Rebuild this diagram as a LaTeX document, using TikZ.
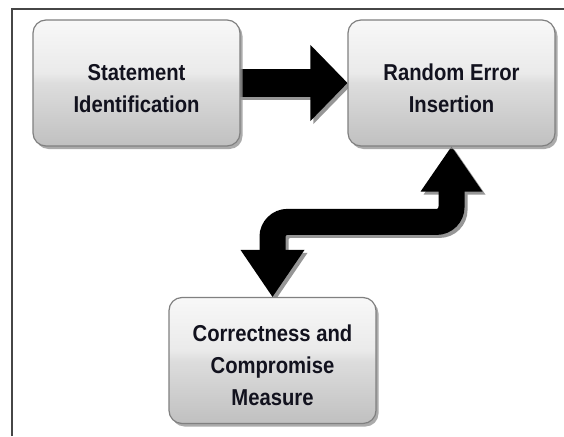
\documentclass[tikz,border=0pt]{standalone}
\usepackage{fontspec}
\setmainfont{Liberation Sans}[FakeStretch=0.88]
\usetikzlibrary{calc,shadows}
\pgfdeclarelayer{background}
\pgfsetlayers{background,main}

\definecolor{boxbot}{RGB}{192,192,192}
\definecolor{boxmid}{RGB}{221,221,221}
\definecolor{boxhi}{RGB}{234,234,234}
\definecolor{boxtop}{RGB}{248,248,248}
\definecolor{boxedge}{RGB}{128,128,128}
\definecolor{shadowgrey}{RGB}{150,150,150}
\definecolor{textdark}{RGB}{18,18,30}
\definecolor{framegrey}{RGB}{70,70,70}

% glossy vertical fill of the process boxes (25bp = bottom, 75bp = top)
\pgfdeclareverticalshading{boxgloss}{100bp}{%
  color(0bp)=(boxbot); color(25bp)=(boxbot); color(50bp)=(boxmid);
  color(54bp)=(boxhi); color(75bp)=(boxtop); color(100bp)=(boxtop)}

% pushes the text block a little below the box centre
\newcommand\topgap{\rule{0pt}{27pt}}

\begin{document}
\begin{tikzpicture}[x=1pt,y=-1pt,
  stepbox/.style={rectangle, rounded corners=13pt,
    minimum width=207pt, minimum height=126pt, inner sep=0pt,
    draw=boxedge, line width=1.2pt, shade, shading=boxgloss,
    drop shadow={shadow xshift=2.5pt, shadow yshift=-3pt,
      fill=shadowgrey, opacity=0.8},
    font=\bfseries\fontsize{23}{32}\selectfont, text=textdark, align=center},
  framerule/.style={draw=framegrey, line width=1.2pt}]
\useasboundingbox (0,0) rectangle (564,436);

% partial frame along the top and left edges
\draw[framerule] (12,436) -- (12,9) -- (564,9);

% process boxes
\node[stepbox] (s) at (136.5,83) {\topgap Statement\\Identification};
\node[stepbox] (r) at (451.5,83) {\topgap Random Error\\Insertion};
\node[stepbox] (c) at (272.5,360.5) {\topgap Correctness and\\Compromise\\Measure};

% block arrows, each drawn once as a grey shadow and once in black
\begin{pgfonlayer}{background}
\foreach \o/\col in {3/shadowgrey,0/black} {
  % straight arrow: Statement Identification -> Random Error Insertion
  \fill[\col] ($(s.east)+(-3,-14)+(\o,\o)$) rectangle ($(r.west)+(-36,14)+(\o,\o)$);
  \fill[\col] ($(r.west)+(-37,-38)+(\o,\o)$) -- ($(r.west)+(\o,\o)$)
     -- ($(r.west)+(-37,38)+(\o,\o)$) -- cycle;
  % bent two-way arrow: Random Error Insertion <-> Correctness and Compromise Measure
  \draw[\col, line width=26pt, rounded corners=15pt]
     ($(r.south)+(0,44)+(\o,\o)$) |- ($(c.north)+(0,-75)+(\o,\o)$)
     -- ($(c.north)+(0,-46)+(\o,\o)$);
  \fill[\col] ($(r.south)+(-31,45)+(\o,\o)$) -- ($(r.south)+(\o,\o)$)
     -- ($(r.south)+(31,45)+(\o,\o)$) -- cycle;
  \fill[\col] ($(c.north)+(-32,-47)+(\o,\o)$) -- ($(c.north)+(\o,\o)$)
     -- ($(c.north)+(32,-47)+(\o,\o)$) -- cycle;
}
\end{pgfonlayer}
\end{tikzpicture}
\end{document}
